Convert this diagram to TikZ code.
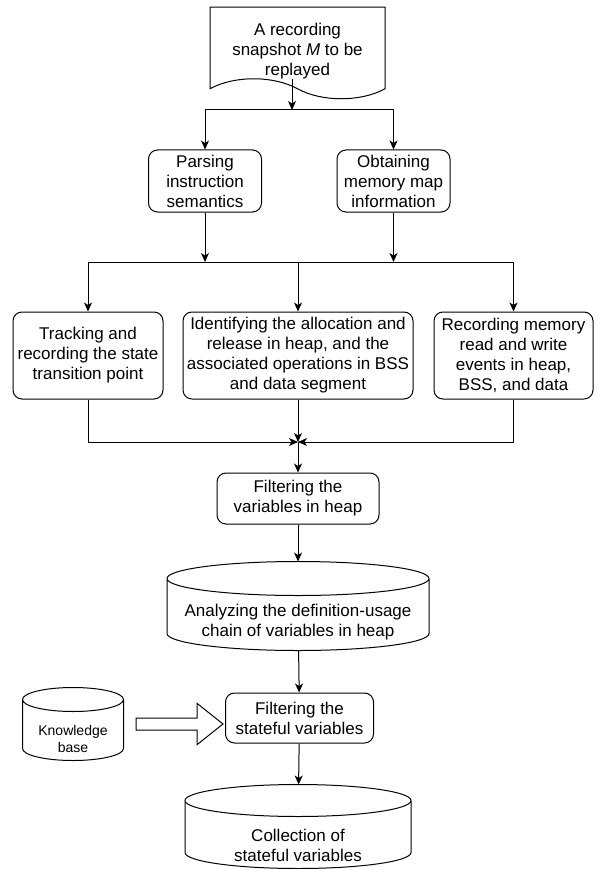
\documentclass[tikz,border=0pt]{standalone}
\usepackage{fontspec}
\setmainfont{Liberation Sans}
\usetikzlibrary{arrows.meta,shapes.arrows,shapes.symbols,positioning,calc}

\tikzset{
  proc/.style={draw, rounded corners=9pt, align=center, inner sep=2pt, font=\fontsize{17}{20}\selectfont},
  store/.style={inner sep=0pt},
  txt/.style={align=center, font=\fontsize{17}{20}\selectfont},
  fat/.style={draw, single arrow, inner xsep=0pt, inner ysep=5.5pt, single arrow head extend=14.5pt, single arrow tip angle=77},
}
% outline of a drum round node #1, end radius #2
\newcommand\drum[2]{%
  \draw let \p1=(#1.north west), \p2=(#1.south east), \n1={(\x2-\x1)/2} in
    ([yshift=-#2]#1.north west) -- ([yshift=#2]#1.south west)
    arc[start angle=180, end angle=360, x radius=\n1, y radius=#2]
    -- ([yshift=-#2]#1.north east)
    arc[start angle=0, end angle=360, x radius=\n1, y radius=#2];
}

\begin{document}
\begin{tikzpicture}[x=1pt,y=-1pt,>={Stealth[length=9pt,width=8pt,inset=2.5pt]},line width=1pt]
\useasboundingbox (0,0) rectangle (597,869);
\node[draw, tape, tape bend top=none, tape bend bottom=out and in, tape bend height=20pt, minimum width=175pt, minimum height=90pt, align=center, inner sep=0pt, font=\fontsize{17}{20}\selectfont] (snap) at (297.5,43) {\rule{0pt}{28pt}A recording\\snapshot \textit{M} to be\\replayed};
\coordinate (split) at (292,110);
\node[proc, minimum width=113pt, minimum height=62pt] (parse) at (205,181) {Parsing\\instruction\\semantics};
\node[proc, minimum width=113pt, minimum height=62pt] (obtain) at (393.5,181) {Obtaining\\memory map\\information};
\coordinate (fork) at (298,262);
\node[proc, minimum width=150pt, minimum height=87pt] (track) at (88,355.5) {Tracking and\\recording the state\\transition point};
\node[proc, minimum width=230pt, minimum height=87pt] (ident) at (298,355.5) {Identifying the allocation and\\release in heap, and the\\associated operations in BSS\\and data segment};
\node[proc, minimum width=159pt, minimum height=87pt] (record) at (513.5,355.5) {Recording memory\\read and write\\events in heap,\\BSS, and data};
\coordinate (merge) at (298,442);
\node[proc, minimum width=162pt, minimum height=51pt] (heapf) at (298,498.5) {Filtering the\\variables in heap};
\node[store, minimum width=261pt, minimum height=88pt] (analyze) at (298,606) {};
\drum{analyze}{17pt}
\node[txt] (analyzetext) at (298,622) {Analyzing the definition-usage\\chain of variables in heap};
\node[proc, minimum width=148pt, minimum height=50pt] (statef) at (299.5,718) {Filtering the\\stateful variables};
\node[store, minimum width=100pt, minimum height=72pt] (kb) at (73,724) {};
\drum{kb}{12pt}
\node[txt, font=\fontsize{14}{17}\selectfont] (kbtext) at (73,739) {Knowledge\\base};
\node[fat, minimum height=87pt, right=12pt of kb] (kbarrow) {};
\node[store, minimum width=225pt, minimum height=83pt] (collect) at (298,826.5) {};
\drum{collect}{16pt}
\node[txt] (collecttext) at (298,845) {Collection of\\stateful variables};
% connectors
\draw[->] (snap.south -| split) -- (split);
\draw[->] (split) -| (parse.north);
\draw[->] (split) -| (obtain.north);
\draw[->] (parse.south) -- (parse.south |- fork);
\draw[->] (obtain.south) -- (obtain.south |- fork);
\draw[->] (fork) -| (track.north);
\draw[->] (fork) -| (record.north);
\draw[->] (fork) -- (ident.north);
\draw[->] (track.south) |- (merge);
\draw[->] (record.south) |- (merge);
\draw[->] (ident.south) -- (merge);
\draw[->] (merge) -- (heapf.north);
\draw[->] (heapf) -- (analyze);
\draw[->] (analyze) -- (statef);
\draw[->] (statef) -- (collect);
\end{tikzpicture}
\end{document}
